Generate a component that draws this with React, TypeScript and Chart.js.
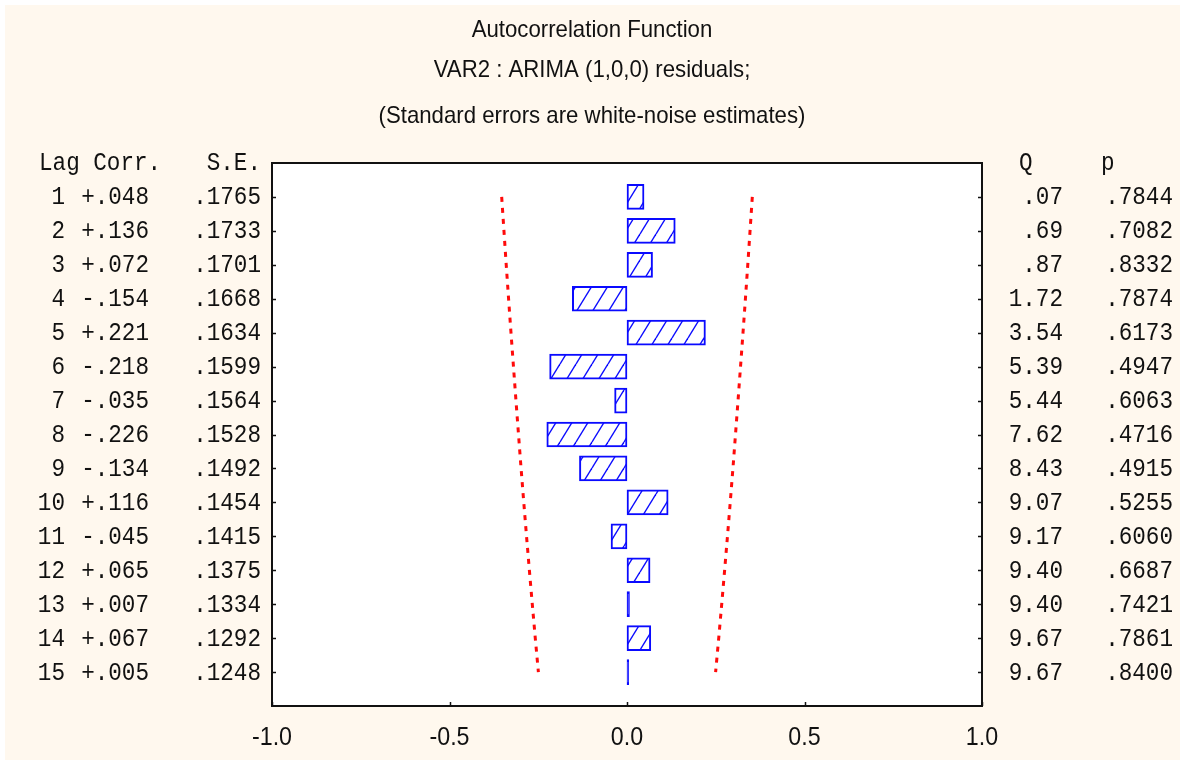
import React, { useEffect, useRef } from "react";
import { Chart, registerables } from "chart.js";

Chart.register(...registerables);

// Lags and autocorrelation results
const lags = [1, 2, 3, 4, 5, 6, 7, 8, 9, 10, 11, 12, 13, 14, 15];
const corr = [0.048, 0.136, 0.072, -0.154, 0.221, -0.218, -0.035, -0.226, -0.134, 0.116, -0.045, 0.065, 0.007, 0.067, 0.005];
const stdErr = [0.1765, 0.1733, 0.1701, 0.1668, 0.1634, 0.1599, 0.1564, 0.1528, 0.1492, 0.1454, 0.1415, 0.1375, 0.1334, 0.1292, 0.1248];
const qStat = [0.07, 0.69, 0.87, 1.72, 3.54, 5.39, 5.44, 7.62, 8.43, 9.07, 9.17, 9.4, 9.4, 9.67, 9.67];
const pValue = [0.7844, 0.7082, 0.8332, 0.7874, 0.6173, 0.4947, 0.6063, 0.4716, 0.4915, 0.5255, 0.606, 0.6687, 0.7421, 0.7861, 0.84];
const xTicks = [-1, -0.5, 0, 0.5, 1];

const titleLines = [
  "Autocorrelation Function",
  "VAR2 : ARIMA (1,0,0) residuals;",
  "(Standard errors are white-noise estimates)",
];

const fmtCorr = (v: number) => (v >= 0 ? "+" : "-") + Math.abs(v).toFixed(3).slice(1);
const fmtSe = (v: number) => v.toFixed(4).slice(1);
const fmtQ = (v: number) => (v < 1 ? v.toFixed(2).slice(1) : v.toFixed(2));
const fmtP = (v: number) => v.toFixed(4).slice(1);

const MONO = '26px "Liberation Mono", "Courier New", monospace';
const MONO_SX = 0.87;
const SANS = '24px "Liberation Sans", Arial, sans-serif';
const TEXT = "#111111";
const BLUE = "#0a0aff";

function drawText(
  ctx: CanvasRenderingContext2D,
  s: string,
  x: number,
  y: number,
  font: string,
  align: CanvasTextAlign,
  sx: number,
  color = TEXT
) {
  ctx.save();
  ctx.font = font;
  ctx.fillStyle = color;
  ctx.textAlign = align;
  ctx.textBaseline = "alphabetic";
  ctx.translate(x, y);
  ctx.scale(sx, 1);
  ctx.fillText(s, 0, 0);
  ctx.restore();
}

// diagonal "/" hatch used to fill the correlation bars
function makeHatch(): CanvasPattern | string {
  const w = 16;
  const h = 26;
  const c = document.createElement("canvas");
  c.width = w;
  c.height = h;
  const g = c.getContext("2d");
  if (!g) return "#ffffff";
  g.fillStyle = "#ffffff";
  g.fillRect(0, 0, w, h);
  g.strokeStyle = BLUE;
  g.lineWidth = 1.4;
  for (let k = -1; k <= 1; k++) {
    g.beginPath();
    g.moveTo(k * w, h);
    g.lineTo(k * w + w, 0);
    g.stroke();
  }
  return g.createPattern(c, "repeat") || "#ffffff";
}

const framePlugin = {
  id: "acfFrame",
  beforeDatasetsDraw(chart: any) {
    const { ctx, chartArea: a } = chart;
    ctx.save();
    ctx.fillStyle = "#ffffff";
    ctx.fillRect(a.left, a.top, a.right - a.left, a.bottom - a.top);
    ctx.restore();
  },
  afterDatasetsDraw(chart: any) {
    const { ctx, chartArea: a, scales } = chart;
    const xs = scales.x;
    const ys = scales.y;
    ctx.save();
    ctx.strokeStyle = "#111111";
    ctx.lineWidth = 2;
    ctx.strokeRect(a.left, a.top, a.right - a.left, a.bottom - a.top);

    // inward tick marks
    ctx.lineWidth = 1.5;
    ctx.beginPath();
    xTicks.forEach((t) => {
      const px = Math.round(xs.getPixelForValue(t)) + 0.5;
      ctx.moveTo(px, a.bottom);
      ctx.lineTo(px, a.bottom - 4);
    });
    lags.forEach((l) => {
      const py = Math.round(ys.getPixelForValue(l)) + 0.5;
      ctx.moveTo(a.left, py);
      ctx.lineTo(a.left + 4, py);
      ctx.moveTo(a.right, py);
      ctx.lineTo(a.right - 4, py);
    });
    ctx.stroke();
    ctx.restore();

    // x tick labels
    xTicks.forEach((t) => {
      drawText(ctx, t.toFixed(1), xs.getPixelForValue(t), a.bottom + 39, '25px "Liberation Sans", Arial, sans-serif', "center", 0.93);
    });

    // titles
    const cx = chart.width / 2 + 2;
    const baselines = [37, 77, 123];
    titleLines.forEach((s, i) => drawText(ctx, s, cx, baselines[i], SANS, "center", 0.925));

    // statistics tables on both sides of the plot
    const headY = 170;
    drawText(ctx, "Lag Corr.", 39, headY, MONO, "left", MONO_SX);
    drawText(ctx, "S.E.", 261, headY, MONO, "right", MONO_SX);
    drawText(ctx, "Q", 1019, headY, MONO, "left", MONO_SX);
    drawText(ctx, "p", 1101, headY, MONO, "left", MONO_SX);

    lags.forEach((l, i) => {
      const y = ys.getPixelForValue(l) + 7.5;
      drawText(ctx, String(l), 65, y, MONO, "right", MONO_SX);
      drawText(ctx, fmtCorr(corr[i]), 149, y, MONO, "right", MONO_SX);
      drawText(ctx, fmtSe(stdErr[i]), 261, y, MONO, "right", MONO_SX);
      drawText(ctx, fmtQ(qStat[i]), 1063, y, MONO, "right", MONO_SX);
      drawText(ctx, fmtP(pValue[i]), 1173, y, MONO, "right", MONO_SX);
    });
  },
};

export default function App() {
  const ref = useRef<HTMLCanvasElement | null>(null);

  useEffect(() => {
    document.body.style.margin = "0";
    const canvas = ref.current;
    if (!canvas) return;
    const hatch = makeHatch();

    const chart = new Chart(canvas, {
      type: "bar",
      data: {
        datasets: [
          {
            type: "bar",
            label: "Corr.",
            data: lags.map((l, i) => ({ x: corr[i], y: l })),
            // bars too narrow to show the hatch are drawn as solid strokes
            backgroundColor: corr.map((v) => (Math.abs(v) < 0.01 ? BLUE : hatch)) as any,
            borderColor: BLUE,
            borderWidth: 2,
            borderSkipped: false,
            barThickness: 25,
            order: 2,
          } as any,
          {
            type: "line",
            label: "+2 S.E.",
            data: lags.map((l, i) => ({ x: 2 * stdErr[i], y: l })),
            borderColor: "#ff0a0a",
            borderWidth: 3,
            borderDash: [5, 6],
            pointRadius: 0,
            fill: false,
            order: 1,
          } as any,
          {
            type: "line",
            label: "-2 S.E.",
            data: lags.map((l, i) => ({ x: -2 * stdErr[i], y: l })),
            borderColor: "#ff0a0a",
            borderWidth: 3,
            borderDash: [5, 6],
            pointRadius: 0,
            fill: false,
            order: 1,
          } as any,
        ],
      },
      options: {
        indexAxis: "y",
        responsive: false,
        animation: false,
        layout: { padding: { left: 272, right: 198, top: 163, bottom: 0 } },
        plugins: {
          legend: { display: false },
          title: { display: false },
          tooltip: { enabled: false },
        },
        scales: {
          x: {
            type: "linear",
            min: -1,
            max: 1,
            grid: { display: false },
            border: { display: false },
            ticks: { display: false },
            afterFit: (s: any) => {
              s.height = 54;
            },
          },
          y: {
            type: "linear",
            min: 0,
            max: 16,
            reverse: true,
            offset: false,
            grid: { display: false },
            border: { display: false },
            ticks: { display: false },
            afterFit: (s: any) => {
              s.width = 0;
            },
          },
        },
      } as any,
      plugins: [framePlugin],
    });

    return () => chart.destroy();
  }, []);

  return (
    <div style={{ position: "absolute", left: 0, top: 0, width: 1180, height: 760, background: "#ffffff", overflow: "hidden" }}>
      <div style={{ position: "absolute", left: 5, top: 5, right: 0, bottom: 0, background: "#fff8ee" }} />
      <canvas ref={ref} width={1180} height={760} style={{ position: "absolute", left: 0, top: 0, width: 1180, height: 760 }} />
    </div>
  );
}
